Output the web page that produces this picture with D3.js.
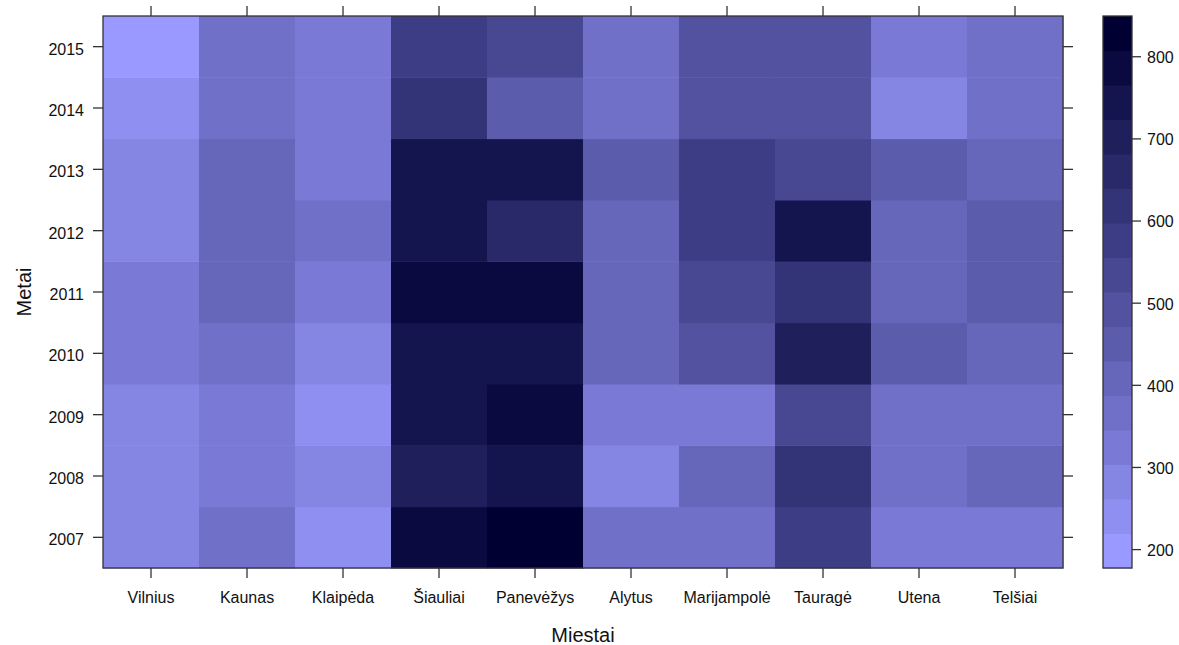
<!DOCTYPE html>
<html>
<head>
<meta charset="utf-8">
<script src="https://cdn.jsdelivr.net/npm/d3@7"></script>
<style>
  body { margin: 0; background: #fff; }
  svg { font-family: "Liberation Sans", Arial, sans-serif; }
</style>
</head>
<body>
<div id="chart"></div>
<script>
const cities = ['Vilnius', 'Kaunas', 'Klaipėda', 'Šiauliai', 'Panevėžys', 'Alytus', 'Marijampolė', 'Tauragė', 'Utena', 'Telšiai'];
const years = [2007, 2008, 2009, 2010, 2011, 2012, 2013, 2014, 2015];

// one array per year, values in city order
const v2007 = [290, 370, 236, 790, 849, 362, 368, 580, 330, 322];
const v2008 = [284, 326, 280, 705, 748, 276, 410, 612, 364, 405];
const v2009 = [288, 322, 242, 740, 792, 328, 320, 538, 370, 368];
const v2010 = [322, 362, 286, 752, 746, 410, 498, 710, 452, 412];
const v2011 = [318, 408, 326, 794, 800, 404, 530, 625, 404, 446];
const v2012 = [286, 405, 368, 745, 668, 408, 578, 752, 410, 454];
const v2013 = [282, 412, 322, 748, 750, 448, 582, 536, 452, 406];
const v2014 = [242, 368, 322, 624, 450, 366, 496, 492, 280, 364];
const v2015 = [177, 370, 324, 572, 540, 364, 494, 490, 324, 370];
const values = [v2007, v2008, v2009, v2010, v2011, v2012, v2013, v2014, v2015];

const colorTicks = [200, 300, 400, 500, 600, 700, 800];

const cells = [];
values.forEach((row, i) => row.forEach((v, j) => cells.push({ city: cities[j], year: years[i], value: v })));

const width = 1179, height = 645;
const plot = { left: 103, right: 1063, top: 16, bottom: 568 };
const key = { left: 1103, right: 1132 };

const svg = d3.select('#chart').append('svg')
    .attr('width', width)
    .attr('height', height);

const x = d3.scaleBand().domain(cities).range([plot.left, plot.right]);
const y = d3.scaleBand().domain(years).range([plot.bottom, plot.top]);

// 16 equal intervals between min and max, like levelplot's default cuts
const extent = d3.extent(cells, d => d.value);
const nBins = 16;
const breaks = d3.range(nBins + 1).map(i => extent[0] + (extent[1] - extent[0]) * i / nBins);
const palette = d3.range(nBins).map(i => d3.interpolateRgb('#9999ff', '#000033')(i / (nBins - 1)));
const color = d3.scaleThreshold().domain(breaks.slice(1, -1)).range(palette);

svg.append('g').selectAll('rect')
    .data(cells)
    .enter()
    .append('rect')
    .attr('x', d => x(d.city))
    .attr('y', d => y(d.year))
    .attr('width', x.bandwidth() + 0.5)
    .attr('height', y.bandwidth() + 0.5)
    .attr('fill', d => color(d.value));

svg.append('rect')
    .attr('x', plot.left).attr('y', plot.top)
    .attr('width', plot.right - plot.left).attr('height', plot.bottom - plot.top)
    .attr('fill', 'none').attr('stroke', '#333').attr('stroke-width', 1.3);

const tickLen = 10;
const axisStyle = g => {
    g.select('.domain').remove();
    g.selectAll('.tick line').attr('stroke', '#333').attr('stroke-width', 1.3);
    g.selectAll('.tick text').attr('fill', '#111').style('font-size', '16px');
};

svg.append('g')
    .attr('transform', `translate(0,${plot.bottom})`)
    .call(d3.axisBottom(x).tickSize(tickLen).tickPadding(14))
    .call(axisStyle);
svg.append('g')
    .attr('transform', `translate(0,${plot.top})`)
    .call(d3.axisTop(x).tickSize(tickLen).tickFormat(''))
    .call(axisStyle);
svg.append('g')
    .attr('transform', `translate(${plot.left},0)`)
    .call(d3.axisLeft(y).tickSize(tickLen).tickPadding(9))
    .call(axisStyle)
    .call(g => g.selectAll('.tick text').attr('dy', '0.5em'));
svg.append('g')
    .attr('transform', `translate(${plot.right},0)`)
    .call(d3.axisRight(y).tickSize(tickLen).tickFormat(''))
    .call(axisStyle);

svg.append('text')
    .attr('x', (plot.left + plot.right) / 2)
    .attr('y', 642)
    .attr('text-anchor', 'middle')
    .attr('fill', '#111')
    .style('font-size', '20px')
    .text('Miestai');

svg.append('text')
    .attr('transform', `translate(31,${(plot.top + plot.bottom) / 2}) rotate(-90)`)
    .attr('text-anchor', 'middle')
    .attr('fill', '#111')
    .style('font-size', '20px')
    .text('Metai');

// colour key
const ky = d3.scaleLinear().domain(extent).range([plot.bottom, plot.top]);
svg.append('g').selectAll('rect')
    .data(palette)
    .enter()
    .append('rect')
    .attr('x', key.left)
    .attr('y', (d, i) => ky(breaks[i + 1]))
    .attr('width', key.right - key.left)
    .attr('height', (d, i) => ky(breaks[i]) - ky(breaks[i + 1]) + 0.5)
    .attr('fill', d => d);

svg.append('rect')
    .attr('x', key.left).attr('y', plot.top)
    .attr('width', key.right - key.left).attr('height', plot.bottom - plot.top)
    .attr('fill', 'none').attr('stroke', '#333').attr('stroke-width', 1.3);

svg.append('g')
    .attr('transform', `translate(${key.right},0)`)
    .call(d3.axisRight(ky).tickValues(colorTicks).tickSize(9).tickPadding(6))
    .call(axisStyle)
    .call(g => g.selectAll('.tick text').attr('dy', '0.4em'));
</script>
</body>
</html>
